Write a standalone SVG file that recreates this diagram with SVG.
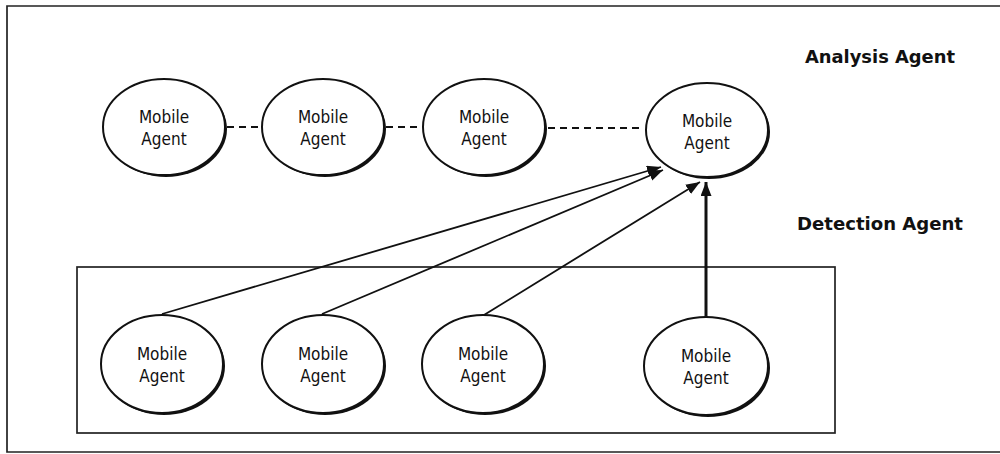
<svg xmlns="http://www.w3.org/2000/svg" width="1000" height="454" viewBox="0 0 1000 454">
<style>
.node-shadow{fill:#111;}
.node-body{fill:#fff;stroke:#111;stroke-width:2;}
.node-text{font-family:"DejaVu Sans Condensed","DejaVu Sans",sans-serif;font-stretch:condensed;font-size:17px;fill:#111;text-anchor:middle;}
.label{font-family:"DejaVu Sans Condensed","DejaVu Sans",sans-serif;font-weight:bold;font-size:18px;fill:#111;}
.frame{fill:none;stroke:#222;stroke-width:1.7;}
.dash{stroke:#111;stroke-width:1.8;stroke-dasharray:7,5;fill:none;}
.arrow{stroke:#111;stroke-width:1.8;fill:none;marker-end:url(#ah);}
.arrow-thick{stroke:#111;stroke-width:3;fill:none;marker-end:url(#ah);}
</style>
<defs>
<marker id="ah" markerUnits="userSpaceOnUse" markerWidth="16" markerHeight="12" refX="14" refY="5.5" orient="auto">
<path d="M0,0 L14,5.5 L0,11 z" fill="#111"/>
</marker>
</defs>
<rect width="1000" height="454" fill="#fff"/>
<path class="frame" d="M1000,6 H7 V452 H1000"/>
<rect class="frame" x="77" y="267" width="758" height="166"/>
<text class="label" x="805" y="63" textLength="150" lengthAdjust="spacingAndGlyphs">Analysis Agent</text>
<text class="label" x="797" y="230" textLength="166" lengthAdjust="spacingAndGlyphs">Detection Agent</text>
<g id="connectors">
<line class="dash" x1="227" y1="127" x2="261" y2="127"/>
<line class="dash" x1="386" y1="127" x2="421" y2="127"/>
<line class="dash" x1="548" y1="128" x2="644" y2="128"/>
<line class="arrow" x1="162" y1="314" x2="661" y2="167"/>
<line class="arrow" x1="322" y1="314" x2="663" y2="170"/>
<line class="arrow" x1="484" y1="315" x2="700" y2="182"/>
<line class="arrow-thick" x1="706" y1="317" x2="706" y2="182"/>
</g>
<g id="n1"><ellipse class="node-shadow" cx="166" cy="129" rx="61" ry="48"/><ellipse class="node-body" cx="164" cy="127" rx="61" ry="48"/><text class="node-text" x="164" y="123">Mobile</text><text class="node-text" x="164" y="145">Agent</text></g>
<g id="n2"><ellipse class="node-shadow" cx="325" cy="129" rx="61" ry="48"/><ellipse class="node-body" cx="323" cy="127" rx="61" ry="48"/><text class="node-text" x="323" y="123">Mobile</text><text class="node-text" x="323" y="145">Agent</text></g>
<g id="n3"><ellipse class="node-shadow" cx="486" cy="129" rx="61" ry="48"/><ellipse class="node-body" cx="484" cy="127" rx="61" ry="48"/><text class="node-text" x="484" y="123">Mobile</text><text class="node-text" x="484" y="145">Agent</text></g>
<g id="n4"><ellipse class="node-shadow" cx="709" cy="132" rx="61" ry="47"/><ellipse class="node-body" cx="707" cy="130" rx="61" ry="47"/><text class="node-text" x="707" y="127">Mobile</text><text class="node-text" x="707" y="149">Agent</text></g>
<g id="n5"><ellipse class="node-shadow" cx="164" cy="366" rx="61" ry="49"/><ellipse class="node-body" cx="162" cy="364" rx="61" ry="49"/><text class="node-text" x="162" y="360">Mobile</text><text class="node-text" x="162" y="382">Agent</text></g>
<g id="n6"><ellipse class="node-shadow" cx="325" cy="366" rx="61" ry="49"/><ellipse class="node-body" cx="323" cy="364" rx="61" ry="49"/><text class="node-text" x="323" y="360">Mobile</text><text class="node-text" x="323" y="382">Agent</text></g>
<g id="n7"><ellipse class="node-shadow" cx="485" cy="366" rx="61" ry="49"/><ellipse class="node-body" cx="483" cy="364" rx="61" ry="49"/><text class="node-text" x="483" y="360">Mobile</text><text class="node-text" x="483" y="382">Agent</text></g>
<g id="n8"><ellipse class="node-shadow" cx="708" cy="368" rx="62" ry="49"/><ellipse class="node-body" cx="706" cy="366" rx="62" ry="49"/><text class="node-text" x="706" y="362">Mobile</text><text class="node-text" x="706" y="384">Agent</text></g>
</svg>
